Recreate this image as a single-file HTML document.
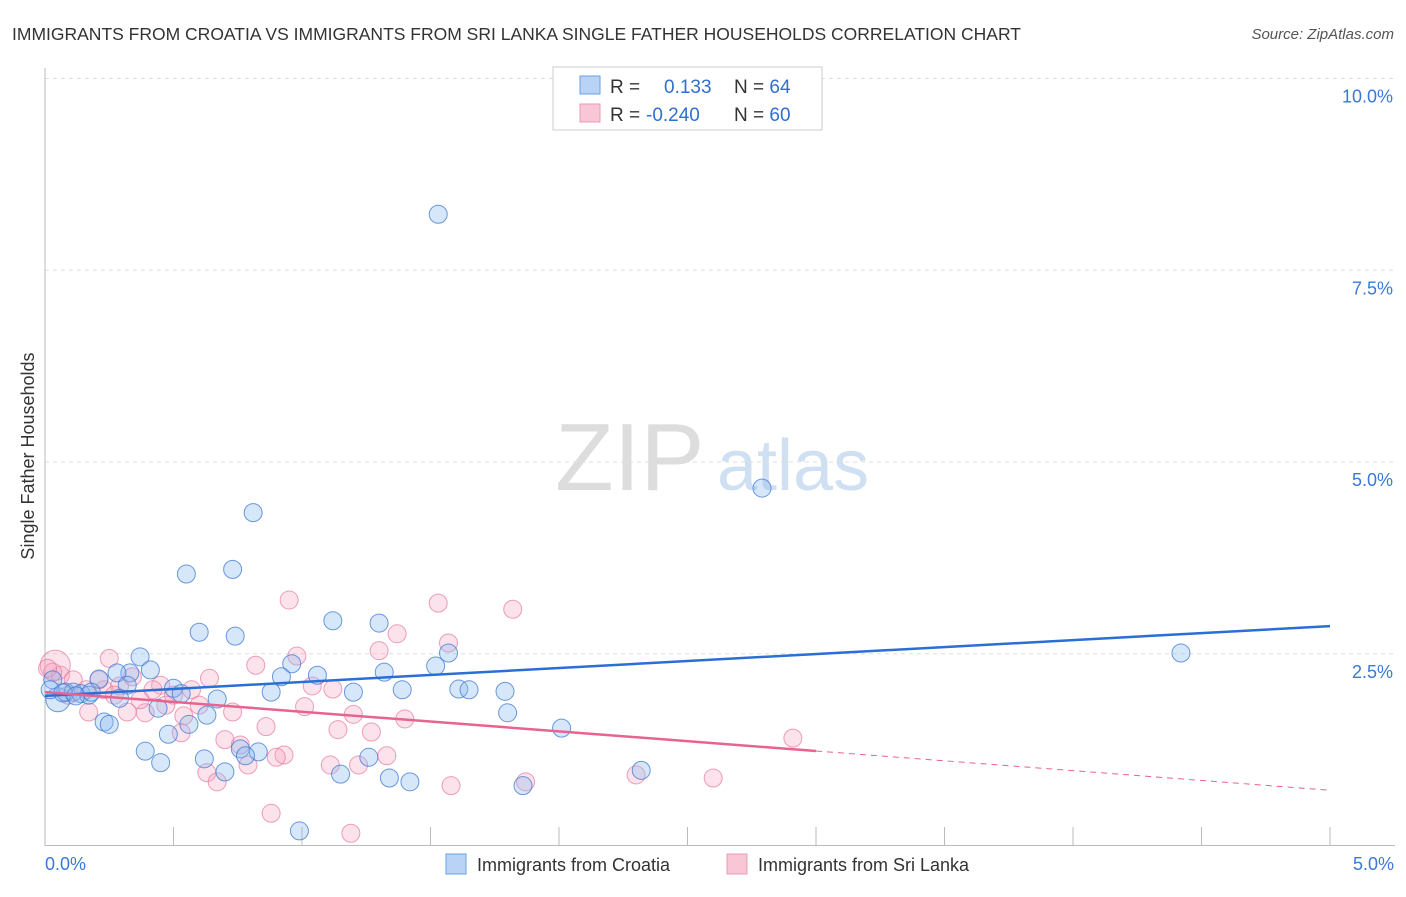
<!DOCTYPE html>
<html><head><meta charset="utf-8"><style>
body{margin:0;background:#fff;font-family:"Liberation Sans",sans-serif;}
svg text{font-family:"Liberation Sans",sans-serif;}
</style></head><body>
<svg id="c" width="1406" height="892" xmlns="http://www.w3.org/2000/svg">
<text x="12" y="40" font-size="17.5" fill="#333">IMMIGRANTS FROM CROATIA VS IMMIGRANTS FROM SRI LANKA SINGLE FATHER HOUSEHOLDS CORRELATION CHART</text>
<text x="1394" y="39" font-size="15" fill="#555" font-style="italic" text-anchor="end">Source: ZipAtlas.com</text>
<text transform="translate(34,456) rotate(-90)" font-size="18" fill="#333" text-anchor="middle">Single Father Households</text>
<g><text x="555" y="490" font-size="96" fill="#ddd" font-family="Liberation Serif,serif">ZIP</text><text x="717" y="490" font-size="72" fill="#cfe0f3">atlas</text></g>
<g id="grid"></g><g id="pts"></g><g id="lines"></g>
<g>
<rect x="553" y="67" width="269" height="63" fill="#fff" stroke="#ccc"/>
<rect x="580" y="76" width="20" height="18" fill="#b8d3f5" stroke="#6b9fe0"/>
<rect x="580" y="104" width="20" height="18" fill="#f9c6d6" stroke="#ec9ab5"/>
<text x="610" y="93" font-size="19" fill="#333">R = <tspan x="664" fill="#2f6fd0">0.133</tspan><tspan x="734" fill="#333">N = </tspan><tspan fill="#2f6fd0">64</tspan></text>
<text x="610" y="121" font-size="19" fill="#333">R = <tspan x="646" fill="#2f6fd0">-0.240</tspan><tspan x="734" fill="#333">N = </tspan><tspan fill="#2f6fd0">60</tspan></text>
</g>
<g>
<rect x="446" y="854" width="20" height="20" fill="#b8d3f5" stroke="#6b9fe0"/>
<text x="477" y="871" font-size="18" fill="#333">Immigrants from Croatia</text>
<rect x="727" y="854" width="20" height="20" fill="#f9c6d6" stroke="#ec9ab5"/>
<text x="758" y="871" font-size="18" fill="#333">Immigrants from Sri Lanka</text>
</g>
</svg>
<script>
const blueX=[1.53,2.79,0.81,0.73,0.55,0.60,0.74,1.12,1.30,4.42,1.57,1.52,0.96,1.06,1.32,0.37,0.41,0.33,0.28,0.21,0.92,0.32,0.50,0.53,0.67,0.88,1.20,1.39,1.61,1.65,1.79,0.05,0.08,0.11,0.14,0.17,0.29,0.44,0.63,0.23,0.25,0.56,0.48,1.80,2.01,0.39,0.45,0.62,0.70,0.76,0.83,0.78,1.26,1.15,1.34,1.42,1.86,2.32,0.99,0.03,0.02,0.07,0.18,0.12];
const blueY=[8.23,4.66,4.34,3.60,3.54,2.78,2.73,2.93,2.90,2.51,2.51,2.34,2.37,2.22,2.26,2.46,2.29,2.25,2.25,2.17,2.20,2.09,2.05,1.98,1.91,2.00,2.00,2.03,2.04,2.03,2.01,1.90,2.00,2.00,1.98,1.96,1.92,1.79,1.70,1.61,1.58,1.58,1.45,1.73,1.53,1.23,1.08,1.13,0.96,1.26,1.22,1.17,1.15,0.93,0.88,0.83,0.78,0.98,0.19,2.16,2.03,1.99,2.00,1.95];
const pinkX=[0.95,1.53,1.82,1.37,1.57,1.30,0.98,0.25,0.82,0.64,0.34,0.45,0.29,0.16,0.06,0.09,1.12,1.04,0.57,0.42,0.50,0.23,1.01,0.73,0.32,0.17,0.39,0.54,1.20,1.40,0.86,1.14,1.27,0.53,0.70,0.76,0.93,0.90,1.33,0.79,1.11,1.22,0.63,0.67,1.58,1.87,2.30,2.60,2.91,0.88,1.19,0.27,0.37,0.04,0.03,0.01,0.11,0.21,0.47,0.60];
const pinkY=[3.20,3.16,3.08,2.76,2.64,2.54,2.47,2.44,2.35,2.18,2.20,2.09,2.08,2.03,2.22,1.96,2.04,2.08,2.03,2.03,1.96,2.03,1.81,1.74,1.74,1.74,1.73,1.69,1.71,1.65,1.55,1.51,1.48,1.47,1.38,1.31,1.18,1.15,1.17,1.05,1.05,1.05,0.95,0.83,0.78,0.83,0.92,0.88,1.40,0.42,0.16,1.96,1.90,2.35,2.26,2.31,2.16,2.16,1.83,1.83];
const blueTrend=[1.95,2.86];
const pinkTrend=[2.00,0.72];
const pinkSolidEnd=3.0;
const yTicks=[2.5,5.0,7.5,10.0];
const xTickLabels=["0.0%","5.0%"];
const NS="http://www.w3.org/2000/svg";
const X=v=>45+v/5*1285, Y=v=>845.5-v*76.7;
function mk(t,a,p){const e=document.createElementNS(NS,t);for(const k in a)e.setAttribute(k,a[k]);p.appendChild(e);return e;}
const grid=document.getElementById('grid');
yTicks.forEach(t=>{
 const l=mk('line',{x1:45,x2:1395,y1:Y(t),y2:Y(t),stroke:'#ddd','stroke-dasharray':'4,4'},grid);
 
 
 const tx=mk('text',{x:1393,y:Y(t)+24,'font-size':18,fill:'#3b78d8','text-anchor':'end'},grid);
 tx.textContent=t.toFixed(1)+'%';
 
 
});
mk('line',{x1:45,x2:45,y1:68,y2:846,stroke:'#bbb'},grid);
mk('line',{x1:45,x2:1395,y1:845.5,y2:845.5,stroke:'#bbb'},grid);
for(let i=1;i<=10;i++){const l=mk('line',{x1:X(i*0.5),x2:X(i*0.5),y1:827,y2:845,stroke:'#bbb'},grid);
 
 }
[[0,'start',45],[5,'end',1394]].forEach((d,i)=>{const t=mk('text',{x:d[2],y:870,'font-size':18,fill:'#3b78d8','text-anchor':d[1]},grid);t.textContent=xTickLabels[i];
 
 });
const pts=document.getElementById('pts');
pinkX.forEach((x,i)=>{const c=mk('circle',{cx:X(x),cy:Y(pinkY[i]),r:i==53?15:9,fill:'rgba(245,160,190,0.3)',stroke:'rgba(230,120,160,0.7)'},pts);
 
 });
blueX.forEach((x,i)=>{const c=mk('circle',{cx:X(x),cy:Y(blueY[i]),r:i==31?12:9,fill:'rgba(140,185,240,0.35)',stroke:'rgba(60,120,210,0.75)'},pts);
 
 });
const lines=document.getElementById('lines');
const bl=mk('line',{x1:X(0),y1:Y(blueTrend[0]),x2:X(5),y2:Y(blueTrend[1]),stroke:'#2a6fd6','stroke-width':2.5},lines);


const pm=pinkTrend[0]+(pinkTrend[1]-pinkTrend[0])*pinkSolidEnd/5;
const pl=mk('line',{x1:X(0),y1:Y(pinkTrend[0]),x2:X(pinkSolidEnd),y2:Y(pm),stroke:'#e8638f','stroke-width':2.5},lines);


const pd=mk('line',{x1:X(pinkSolidEnd),y1:Y(pm),x2:X(5),y2:Y(pinkTrend[1]),stroke:'#e8638f','stroke-width':1,'stroke-dasharray':'6,5'},lines);


</script>
</body></html>
